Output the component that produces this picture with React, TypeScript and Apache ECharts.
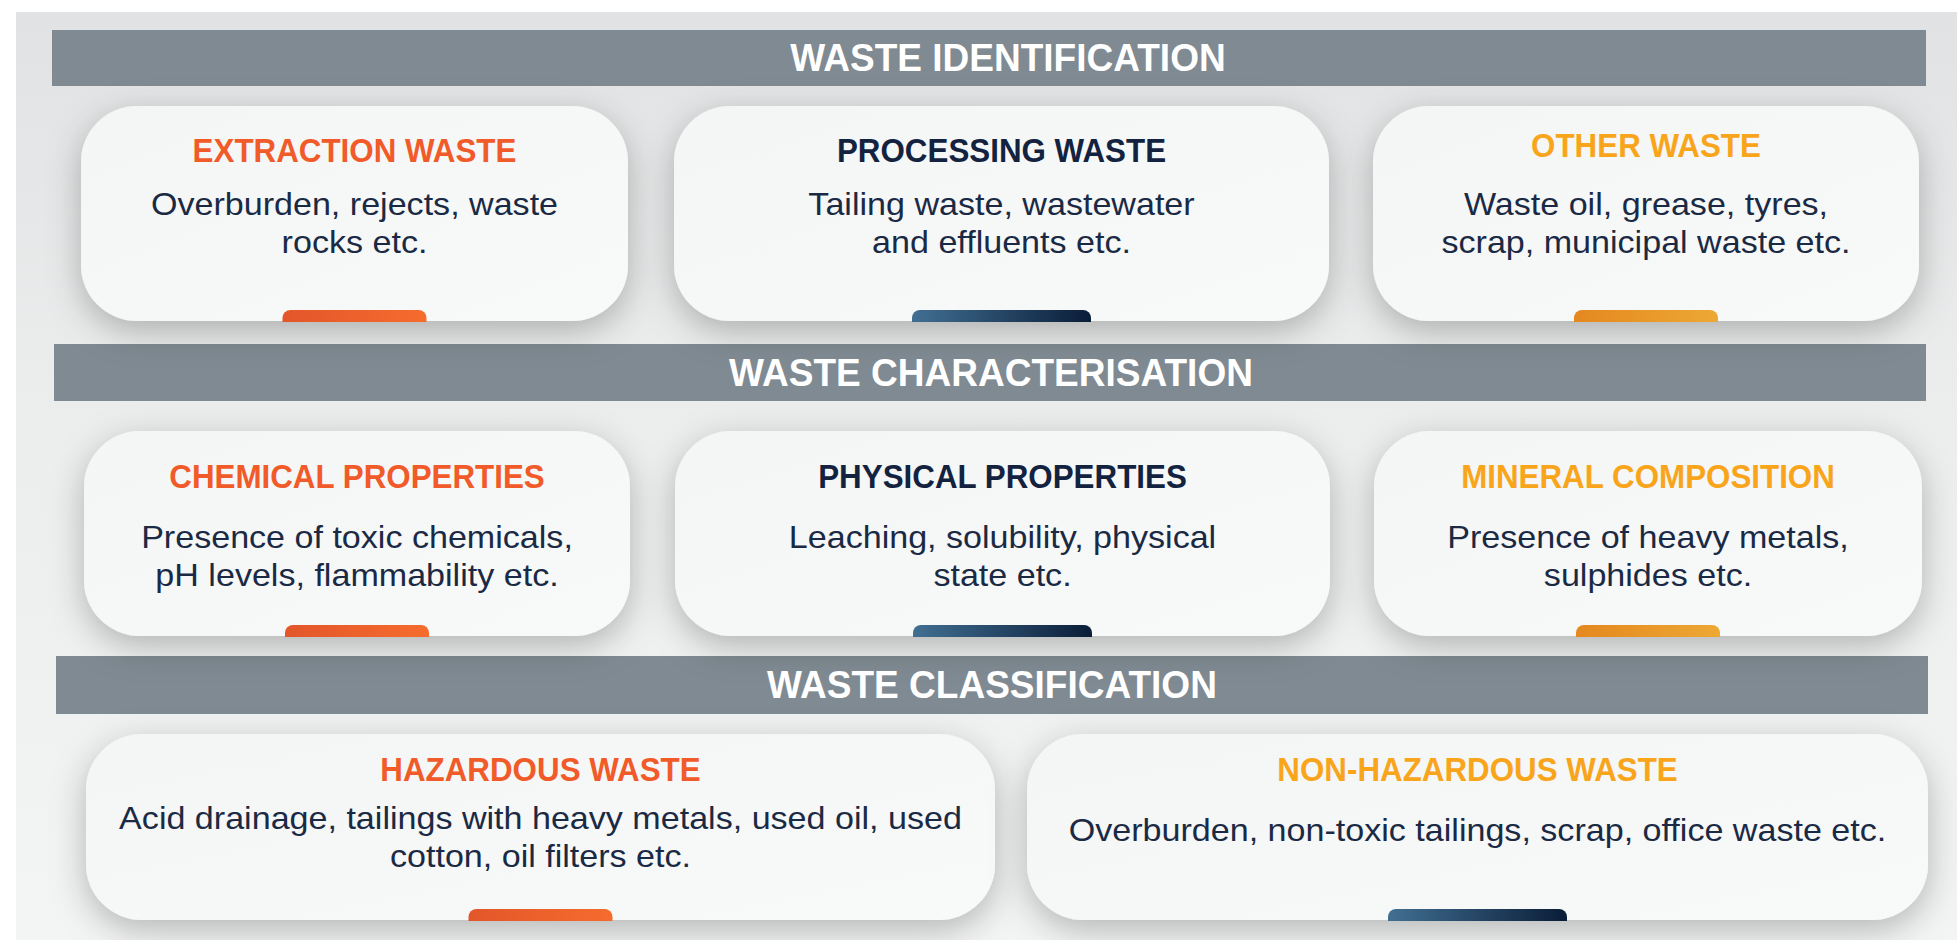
import React, { useEffect, useRef } from "react";
import * as echarts from "echarts";

// ---- content ----
const SECTION_TITLES = ["WASTE IDENTIFICATION", "WASTE CHARACTERISATION", "WASTE CLASSIFICATION"];

const ROW1_TITLES = ["EXTRACTION WASTE", "PROCESSING WASTE", "OTHER WASTE"];
const ROW1_TEXTS = [
  "Overburden, rejects, waste\nrocks etc.",
  "Tailing waste, wastewater\nand effluents etc.",
  "Waste oil, grease, tyres,\nscrap, municipal waste etc.",
];
const ROW1_ACCENTS = ["orange", "navy", "yellow"];

const ROW2_TITLES = ["CHEMICAL PROPERTIES", "PHYSICAL PROPERTIES", "MINERAL COMPOSITION"];
const ROW2_TEXTS = [
  "Presence of toxic chemicals,\npH levels, flammability etc.",
  "Leaching, solubility, physical\nstate etc.",
  "Presence of heavy metals,\nsulphides etc.",
];
const ROW2_ACCENTS = ["orange", "navy", "yellow"];

const ROW3_TITLES = ["HAZARDOUS WASTE", "NON-HAZARDOUS WASTE"];
const ROW3_TEXTS = [
  "Acid drainage, tailings with heavy metals, used oil, used\ncotton, oil filters etc.",
  "Overburden, non-toxic tailings, scrap, office waste etc.",
];
const ROW3_TITLE_ACCENTS = ["orange", "yellow"];
const ROW3_TAB_ACCENTS = ["orange", "navy"];

// ---- layout (pixels) ----
const W = 1957;
const H = 940;
const FONT = "'Liberation Sans', Arial, Helvetica, sans-serif";

const BARS = [
  { x: 52, y: 30, w: 1874, h: 56, tx: 1008 },
  { x: 54, y: 344, w: 1872, h: 57, tx: 991 },
  { x: 56, y: 656, w: 1872, h: 58, tx: 992 },
];

const ROW1_BOXES = [
  { x0: 81, x1: 628 },
  { x0: 674, x1: 1329 },
  { x0: 1373, x1: 1919 },
];
const ROW2_BOXES = [
  { x0: 84, x1: 630 },
  { x0: 675, x1: 1330 },
  { x0: 1374, x1: 1922 },
];
const ROW3_BOXES = [
  { x0: 86, x1: 995 },
  { x0: 1027, x1: 1928 },
];

const TITLE_COLORS: Record<string, string> = {
  orange: "#f15a29",
  navy: "#13233f",
  yellow: "#f8a51b",
};
const TAB_GRADIENTS: Record<string, [string, string]> = {
  orange: ["#e3562a", "#f56c2e"],
  navy: ["#416f92", "#0a1d38"],
  yellow: ["#e4881f", "#eda834"],
};
const TAB_WIDTHS: Record<string, number> = { orange: 144, navy: 179, yellow: 144 };
const BODY_COLOR = "#1b2a44";

function card(
  box: { x0: number; x1: number },
  y0: number,
  y1: number,
  title: string,
  titleAccent: string,
  titleY: number,
  text: string,
  textY: number,
  tabAccent: string
) {
  const cx = (box.x0 + box.x1) / 2;
  const tw = TAB_WIDTHS[tabAccent];
  const g = TAB_GRADIENTS[tabAccent];
  return [
    {
      type: "rect",
      shape: { x: box.x0, y: y0, width: box.x1 - box.x0, height: y1 - y0, r: 56 },
      style: {
        fill: new echarts.graphic.LinearGradient(0, 0, 1, 1, [
          { offset: 0, color: "#f4f5f5" },
          { offset: 1, color: "#f8f9f9" },
        ]),
        shadowBlur: 34,
        shadowColor: "rgba(0,0,0,0.26)",
        shadowOffsetX: 0,
        shadowOffsetY: 10,
      },
      z: 2,
    },
    {
      type: "rect",
      shape: { x: cx - tw / 2, y: y1 - 11, width: tw, height: 12, r: [8, 8, 0, 0] },
      style: {
        fill: new echarts.graphic.LinearGradient(0, 0, 1, 0, [
          { offset: 0, color: g[0] },
          { offset: 1, color: g[1] },
        ]),
      },
      z: 3,
    },
    {
      type: "text",
      x: cx,
      y: titleY,
      scaleX: 0.95,
      style: {
        text: title,
        x: 0,
        y: 0,
        align: "center",
        verticalAlign: "middle",
        fill: TITLE_COLORS[titleAccent],
        font: `bold 33px ${FONT}`,
      },
      z: 4,
    },
    {
      type: "text",
      x: cx,
      y: textY,
      scaleX: 1.065,
      style: {
        text,
        x: 0,
        y: 0,
        align: "center",
        verticalAlign: "middle",
        fill: BODY_COLOR,
        font: `32px ${FONT}`,
        lineHeight: 38,
      },
      z: 4,
    },
  ];
}

export default function App() {
  const ref = useRef<HTMLDivElement>(null);

  useEffect(() => {
    if (!ref.current) return;
    const chart = echarts.init(ref.current, null, { renderer: "svg", width: W, height: H });

    const elements: any[] = [];
    // background
    elements.push({
      type: "rect",
      shape: { x: 16, y: 12, width: W - 16, height: H - 12 },
      style: {
        fill: new echarts.graphic.LinearGradient(0, 0, 0, 1, [
          { offset: 0, color: "#e1e2e3" },
          { offset: 0.45, color: "#eceded" },
          { offset: 1, color: "#f3f4f4" },
        ]),
      },
      z: 0,
    });
    // section bars
    BARS.forEach((b, i) => {
      elements.push({
        type: "rect",
        shape: { x: b.x, y: b.y, width: b.w, height: b.h },
        style: { fill: "#7f8a92" },
        z: 1,
      });
      elements.push({
        type: "text",
        x: b.tx,
        y: b.y + b.h / 2,
        scaleX: 0.95,
        style: {
          text: SECTION_TITLES[i],
          x: 0,
          y: 0,
          align: "center",
          verticalAlign: "middle",
          fill: "#ffffff",
          font: `bold 39px ${FONT}`,
        },
        z: 4,
      });
    });

    ROW1_BOXES.forEach((b, i) => {
      elements.push(
        ...card(b, 106, 321, ROW1_TITLES[i], ROW1_ACCENTS[i], i === 2 ? 146 : 151, ROW1_TEXTS[i], 223, ROW1_ACCENTS[i])
      );
    });
    ROW2_BOXES.forEach((b, i) => {
      elements.push(
        ...card(b, 431, 636, ROW2_TITLES[i], ROW2_ACCENTS[i], 477, ROW2_TEXTS[i], 556, ROW2_ACCENTS[i])
      );
    });
    ROW3_BOXES.forEach((b, i) => {
      elements.push(
        ...card(
          b,
          734,
          920,
          ROW3_TITLES[i],
          ROW3_TITLE_ACCENTS[i],
          770,
          ROW3_TEXTS[i],
          i === 0 ? 837 : 830,
          ROW3_TAB_ACCENTS[i]
        )
      );
    });

    chart.setOption({ animation: false, graphic: { elements } });
    return () => chart.dispose();
  }, []);

  return (
    <div
      ref={ref}
      style={{ position: "fixed", left: 0, top: 0, width: W, height: H, background: "#ffffff" }}
    />
  );
}
